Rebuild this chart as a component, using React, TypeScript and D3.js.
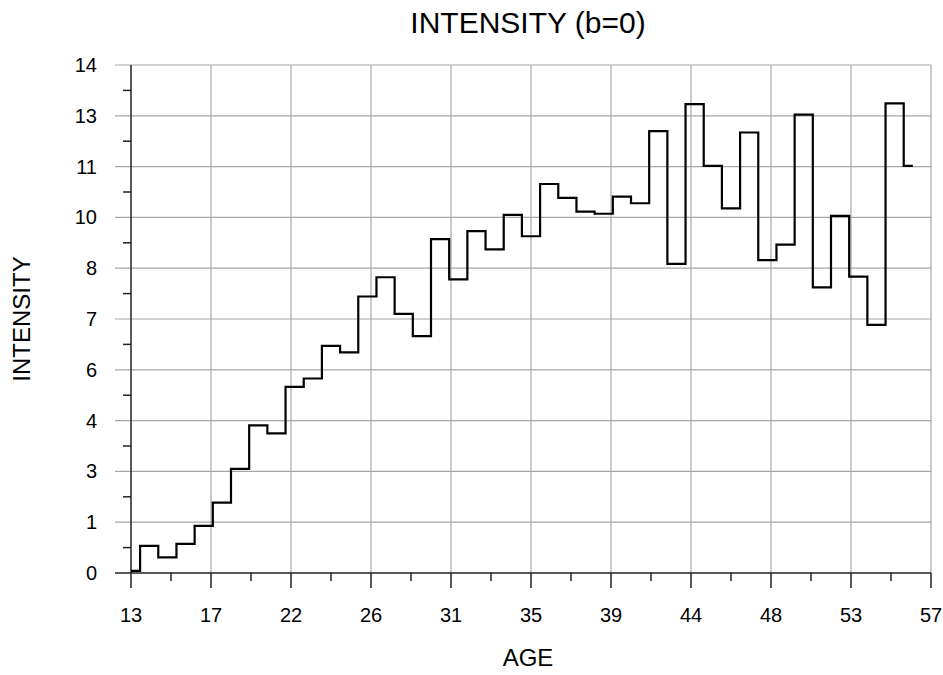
import { useEffect, useRef } from 'react';
import * as d3 from 'd3';

// ages 13..56, one value per year
const ages = [13, 14, 15, 16, 17, 18, 19, 20, 21, 22, 23, 24, 25, 26, 27, 28, 29, 30, 31, 32, 33, 34,
  35, 36, 37, 38, 39, 40, 41, 42, 43, 44, 45, 46, 47, 48, 49, 50, 51, 52, 53, 54, 55, 56];
const intensity = [0.06, 0.75, 0.43, 0.8, 1.3, 1.94, 2.87, 4.07, 3.85, 5.13, 5.36, 6.26, 6.08, 7.62,
  8.15, 7.14, 6.53, 9.2, 8.09, 9.42, 8.92, 9.87, 9.28, 10.72, 10.34, 9.96, 9.9, 10.37, 10.19, 12.18,
  8.52, 12.92, 11.22, 10.05, 12.14, 8.62, 9.05, 12.63, 7.87, 9.84, 8.17, 6.84, 12.94, 11.22];

const xTickLabels = ['13', '17', '22', '26', '31', '35', '39', '44', '48', '53', '57'];
const yTickLabels = ['0', '1', '3', '4', '6', '7', '8', '10', '11', '13', '14'];

const W = 943;
const H = 675;
const FONT = 'Arial, "Liberation Sans", sans-serif';

export default function App() {
  const svgRef = useRef<SVGSVGElement>(null);

  useEffect(() => {
    if (!svgRef.current) return;
    const svg = d3.select(svgRef.current);
    svg.selectAll('*').remove();

    const x = d3.scaleLinear().domain([13, 57]).range([131, 931]);
    const y = d3.scaleLinear().domain([0, 14]).range([573, 65]);

    const nx = xTickLabels.length - 1;
    const ny = yTickLabels.length - 1;
    const xMajor = d3.range(nx + 1).map(i => 13 + (44 * i) / nx);
    const yMajor = d3.range(ny + 1).map(i => (14 * i) / ny);
    const xMinor = d3.range(nx).map(i => 13 + (44 * (i + 0.5)) / nx);
    const yMinor = d3.range(ny).map(i => (14 * (i + 0.5)) / ny);

    const [y0, y1] = y.range();
    const [x0, x1] = x.range();

    // grid
    const grid = svg.append('g').attr('stroke', '#a6a6a6').attr('stroke-width', 1.2);
    grid.selectAll('line.v')
      .data(xMajor.slice(1))
      .enter().append('line')
      .attr('x1', d => x(d)).attr('x2', d => x(d))
      .attr('y1', y1).attr('y2', y0);
    grid.selectAll('line.h')
      .data(yMajor.slice(1))
      .enter().append('line')
      .attr('x1', x0 - 16).attr('x2', x1)
      .attr('y1', d => y(d)).attr('y2', d => y(d));

    // axes
    const axes = svg.append('g').attr('stroke', '#222').attr('stroke-width', 1.5);
    axes.append('line').attr('x1', x0 - 16).attr('x2', x1).attr('y1', y0).attr('y2', y0);
    axes.append('line').attr('x1', x0).attr('x2', x0).attr('y1', y1).attr('y2', y0 + 15);
    axes.selectAll('line.xt')
      .data(xMajor.slice(1))
      .enter().append('line')
      .attr('x1', d => x(d)).attr('x2', d => x(d))
      .attr('y1', y0).attr('y2', y0 + 15);
    axes.selectAll('line.xm')
      .data(xMinor)
      .enter().append('line')
      .attr('x1', d => x(d)).attr('x2', d => x(d))
      .attr('y1', y0).attr('y2', y0 + 8);
    axes.selectAll('line.ym')
      .data(yMinor)
      .enter().append('line')
      .attr('x1', x0 - 8).attr('x2', x0)
      .attr('y1', d => y(d)).attr('y2', d => y(d));

    // tick labels
    svg.append('g')
      .attr('font-family', FONT).attr('font-size', 20).attr('fill', '#000')
      .attr('text-anchor', 'middle')
      .selectAll('text')
      .data(xMajor)
      .enter().append('text')
      .attr('x', d => x(d)).attr('y', 622)
      .text((_, i) => xTickLabels[i]);

    svg.append('g')
      .attr('font-family', FONT).attr('font-size', 20).attr('fill', '#000')
      .attr('text-anchor', 'end')
      .selectAll('text')
      .data(yMajor)
      .enter().append('text')
      .attr('x', 97).attr('y', d => y(d) + 7)
      .text((_, i) => yTickLabels[i]);

    // step line
    const line = d3.line<number>()
      .x((_, i) => x(ages[i]))
      .y(d => y(d))
      .curve(d3.curveStep);
    svg.append('path')
      .datum(intensity)
      .attr('d', line)
      .attr('fill', 'none')
      .attr('stroke', '#000')
      .attr('stroke-width', 2.2);

    // titles
    svg.append('text')
      .attr('x', 528).attr('y', 33)
      .attr('text-anchor', 'middle')
      .attr('font-family', FONT).attr('font-size', 30)
      .text('INTENSITY (b=0)');
    svg.append('text')
      .attr('x', 528).attr('y', 666)
      .attr('text-anchor', 'middle')
      .attr('font-family', FONT).attr('font-size', 24)
      .text('AGE');
    svg.append('text')
      .attr('transform', `translate(30, ${(y0 + y1) / 2}) rotate(-90)`)
      .attr('text-anchor', 'middle')
      .attr('font-family', FONT).attr('font-size', 24)
      .text('INTENSITY');
  }, []);

  return (
    <div style={{ position: 'absolute', left: 0, top: 0, width: W, height: H, background: '#fff' }}>
      <svg ref={svgRef} width={W} height={H}></svg>
    </div>
  );
}
